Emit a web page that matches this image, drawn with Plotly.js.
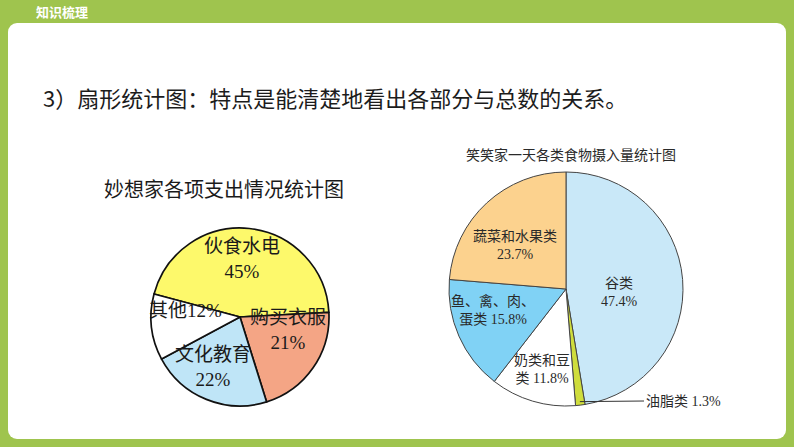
<!DOCTYPE html>
<html>
<head>
<meta charset="utf-8">
<script src="https://cdn.plot.ly/plotly-3.0.1.min.js"></script>
<style>
  html, body { margin:0; padding:0; }
  body { width:794px; height:447px; background:#9fc44e; position:relative; overflow:hidden; }
  #panel { position:absolute; left:8px; top:23px; width:778px; height:416px; background:#ffffff; border-radius:9px; }
  #chart { position:absolute; left:0; top:0; width:794px; height:447px; }
</style>
</head>
<body>
<div id="panel"></div>
<div id="chart"></div>
<script>
// ---------- data ----------
const spendTitle = '妙想家各项支出情况统计图';
const spendLabels = ['伙食水电', '购买衣服', '文化教育', '其他'];
const spendValues = [45, 21, 22, 12];
const spendText = ['伙食水电<br>45%', '购买衣服<br>21%', '文化教育<br>22%', '其他12%'];

const foodTitle = '笑笑家一天各类食物摄入量统计图';
const foodLabels = ['谷类', '油脂类', '奶类和豆类', '鱼、禽、肉、蛋类', '蔬菜和水果类'];
const foodValues = [47.4, 1.3, 11.8, 15.8, 23.7];
const foodText = ['谷类<br>47.4%', '油脂类 1.3%', '奶类和豆<br>类 11.8%', '鱼、禽、肉、<br>蛋类 15.8%', '蔬菜和水果类<br>23.7%'];

const slideHeader = '知识梳理';
const slideHeading = '3）扇形统计图：特点是能清楚地看出各部分与总数的关系。';

// ---------- styling / geometry ----------
const W = 794, H = 447;
const px = x => x / W;
const py = y => 1 - y / H;
const serif = 'Liberation Serif, Times New Roman, Noto Sans CJK SC, serif';
const sans = 'Noto Sans CJK SC, Noto Sans, sans-serif';

const L = {cx: 240, cy: 317, r: 89, rot: -75};
const R = {cx: 566, cy: 289, r: 117, rot: 0};
// label placement style (fraction of radius, angular nudge in degrees)
const spendLabelR = [0.65, 0.56, 0.64, 0.62];
const spendLabelNudge = [-4, -20, 6, 13];
const foodLabelR = [0.46, null, 0.72, 0.65, 0.57];
const foodLabelNudge = [8, 0, 0, 8, -7];

function pieTrace(labels, values, colors, lineColor, lineWidth, G) {
  return {
    type: 'pie', sort: false, direction: 'clockwise', rotation: G.rot,
    labels: labels, values: values, textinfo: 'none',
    marker: {colors: colors, line: {color: lineColor, width: lineWidth}},
    domain: {x: [px(G.cx - G.r), px(G.cx + G.r)], y: [py(G.cy + G.r), py(G.cy - G.r)]},
    hoverinfo: 'label+percent', showlegend: false
  };
}

// slice label positions computed from the values
function sliceLabels(values, texts, G, rFrac, nudge, font) {
  const total = values.reduce((a, b) => a + b, 0);
  let cum = 0;
  const out = [];
  values.forEach((v, i) => {
    const mid = G.rot + 360 * (cum + v / 2) / total + nudge[i];
    cum += v;
    if (rFrac[i] == null) return;
    const a = mid * Math.PI / 180;
    out.push({
      text: texts[i], xref: 'paper', yref: 'paper',
      x: px(G.cx + rFrac[i] * G.r * Math.sin(a)), y: py(G.cy - rFrac[i] * G.r * Math.cos(a)),
      xanchor: 'center', yanchor: 'middle', showarrow: false, font: font
    });
  });
  return out;
}

const spendTrace = pieTrace(spendLabels, spendValues, ['#fdf96b', '#f4a585', '#bfe5f7', '#ffffff'], '#111111', 1.7, L);
const foodTrace = pieTrace(foodLabels, foodValues, ['#c9e8f8', '#cfdd3c', '#ffffff', '#80d2f5', '#fcd28e'], '#444444', 1, R);

const spendFont = {family: serif, size: 19, color: '#1a1a1a'};
const foodFont = {family: serif, size: 14, color: '#2a2a2a'};

// leader line for the thin oil slice, anchored on the slice itself
const fTotal = foodValues.reduce((a, b) => a + b, 0);
const oilAng = 2 * Math.PI * (foodValues[0] + foodValues[1] / 2) / fTotal;
const oilX = R.cx + R.r * 0.97 * Math.sin(oilAng);
const oilY = R.cy - R.r * 0.97 * Math.cos(oilAng);

const annotations = [
  {text: '<b>' + slideHeader + '</b>', xref: 'paper', yref: 'paper', x: px(34), y: py(12),
   xanchor: 'left', yanchor: 'middle', showarrow: false, font: {family: sans, size: 13, color: '#ffffff'}},
  {text: slideHeading, xref: 'paper', yref: 'paper', x: px(41), y: py(97),
   xanchor: 'left', yanchor: 'middle', showarrow: false, font: {family: sans, size: 22, color: '#1c1c1c'}},
  {text: spendTitle, xref: 'paper', yref: 'paper', x: px(224), y: py(190),
   xanchor: 'center', yanchor: 'middle', showarrow: false, font: {family: serif, size: 20, color: '#1a1a1a'}},
  {text: foodTitle, xref: 'paper', yref: 'paper', x: px(571), y: py(155),
   xanchor: 'center', yanchor: 'middle', showarrow: false, font: {family: serif, size: 14, color: '#2a2a2a'}},
  {text: foodText[1], xref: 'paper', yref: 'paper', x: px(oilX), y: py(oilY),
   ax: 644 - oilX, ay: 401 - oilY, xanchor: 'left', yanchor: 'middle',
   showarrow: true, arrowhead: 0, arrowwidth: 1, arrowcolor: '#333333', standoff: 0,
   font: foodFont}
].concat(
  sliceLabels(spendValues, spendText, L, spendLabelR, spendLabelNudge, spendFont),
  sliceLabels(foodValues, foodText, R, foodLabelR, foodLabelNudge, foodFont)
);

const layout = {
  width: W, height: H,
  margin: {l: 0, r: 0, t: 0, b: 0},
  paper_bgcolor: 'rgba(0,0,0,0)', plot_bgcolor: 'rgba(0,0,0,0)',
  showlegend: false,
  annotations: annotations
};

Plotly.newPlot('chart', [spendTrace, foodTrace], layout, {displayModeBar: false, staticPlot: true});
</script>
</body>
</html>
